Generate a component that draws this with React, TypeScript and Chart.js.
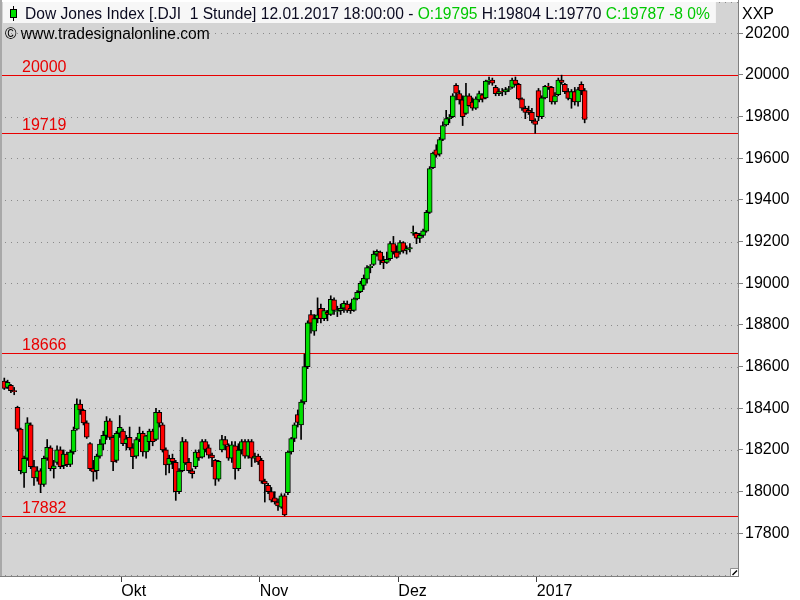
import React, { useEffect, useRef } from 'react';
import { Chart, registerables } from 'chart.js';

Chart.register(...registerables);

// ---------- data ----------
const tradingDays = [
  '2016-09-07', '2016-09-08', '2016-09-09', '2016-09-12', '2016-09-13', '2016-09-14', '2016-09-15', '2016-09-16',
  '2016-09-19', '2016-09-20', '2016-09-21', '2016-09-22', '2016-09-23', '2016-09-26', '2016-09-27', '2016-09-28',
  '2016-09-29', '2016-09-30',
  '2016-10-03', '2016-10-04', '2016-10-05', '2016-10-06', '2016-10-07', '2016-10-10', '2016-10-11', '2016-10-12',
  '2016-10-13', '2016-10-14', '2016-10-17', '2016-10-18', '2016-10-19', '2016-10-20', '2016-10-21', '2016-10-24',
  '2016-10-25', '2016-10-26', '2016-10-27', '2016-10-28', '2016-10-31',
  '2016-11-01', '2016-11-02', '2016-11-03', '2016-11-04', '2016-11-07', '2016-11-08', '2016-11-09', '2016-11-10',
  '2016-11-11', '2016-11-14', '2016-11-15', '2016-11-16', '2016-11-17', '2016-11-18', '2016-11-21', '2016-11-22',
  '2016-11-23', '2016-11-25', '2016-11-28', '2016-11-29', '2016-11-30',
  '2016-12-01', '2016-12-02', '2016-12-05', '2016-12-06', '2016-12-07', '2016-12-08', '2016-12-09', '2016-12-12',
  '2016-12-13', '2016-12-14', '2016-12-15', '2016-12-16', '2016-12-19', '2016-12-20', '2016-12-21', '2016-12-22',
  '2016-12-23', '2016-12-27', '2016-12-28', '2016-12-29', '2016-12-30',
  '2017-01-03', '2017-01-04', '2017-01-05', '2017-01-06', '2017-01-09', '2017-01-10', '2017-01-11', '2017-01-12',
];

// two sessions per trading day (morning / afternoon), last day only morning
const sessionOpen = [
  18530, 18500, 18510, 18485, 18405, 18300, 18090, 18160, 18320, 18120, 18066, 18100, 18035, 18160, 18210, 18110,
  18140, 18200, 18125, 18180, 18130, 18190, 18300, 18420, 18390, 18330, 18230, 18110, 18100, 18170, 18228, 18270,
  18340, 18260, 18150, 18280,
  18290, 18230, 18260, 18210, 18170, 18250, 18280, 18190, 18240, 18290, 18250, 18380, 18320, 18200, 18130, 18160,
  18140, 18000, 18100, 18240, 18140, 18100, 18120, 18190, 18165, 18240, 18210, 18175, 18150, 18060, 18200, 18250,
  18220, 18160, 18220, 18110, 18200, 18240, 18170, 18240, 18160, 18170,
  18150, 18050, 18030, 18000, 17970, 17950, 17925, 17980, 17995, 18190, 18255, 18370, 18320, 18430, 18600, 18850,
  18770, 18830, 18880, 18830, 18860, 18850, 18920, 18865, 18868, 18880, 18900, 18880, 18870, 18925, 18960, 18990,
  19020, 19075, 19090, 19140, 19150, 19110, 19100, 19118, 19190, 19150,
  19150, 19195, 19160, 19165, 19240, 19240, 19215, 19230, 19250, 19340, 19555, 19640, 19620, 19690, 19760, 19790,
  19800, 19950, 19910, 19880, 19815, 19900, 19870, 19840, 19880, 19905, 19890, 19970, 19975, 19940, 19910, 19920,
  19918, 19930, 19940, 19975, 19955, 19885, 19840, 19830, 19820, 19780,
  19925, 19800, 19890, 19945, 19940, 19870, 19905, 19975, 19955, 19920, 19885, 19920, 19870, 19955, 19925,
];
const sessionHigh = [
  18545, 18535, 18515, 18500, 18410, 18305, 18170, 18355, 18330, 18150, 18120, 18110, 18170, 18250, 18220, 18150,
  18220, 18215, 18200, 18190, 18200, 18310, 18445, 18440, 18395, 18340, 18235, 18150, 18180, 18250, 18290, 18360,
  18350, 18270, 18290, 18365,
  18300, 18270, 18310, 18230, 18260, 18310, 18290, 18270, 18300, 18300, 18400, 18390, 18330, 18210, 18175, 18180,
  18150, 18110, 18260, 18250, 18160, 18110, 18200, 18200, 18250, 18250, 18225, 18185, 18155, 18150, 18270, 18265,
  18230, 18240, 18240, 18230, 18250, 18250, 18250, 18250, 18185, 18180,
  18160, 18060, 18040, 18020, 18000, 17965, 17990, 17990, 18195, 18260, 18330, 18392, 18440, 18660, 18820, 18870,
  18850, 18930, 18900, 18880, 18870, 18940, 18930, 18890, 18900, 18915, 18915, 18905, 18930, 18965, 19010, 19040,
  19085, 19090, 19155, 19160, 19155, 19130, 19150, 19200, 19225, 19180,
  19205, 19200, 19180, 19190, 19275, 19245, 19240, 19260, 19350, 19560, 19630, 19665, 19700, 19775, 19830, 19810,
  19910, 19958, 19925, 19900, 19960, 19910, 19890, 19895, 19922, 19910, 19975, 19990, 19985, 19950, 19935, 19935,
  19940, 19945, 19985, 19990, 19960, 19890, 19850, 19850, 19840, 19790,
  19935, 19900, 19950, 19960, 19945, 19915, 19985, 19999, 19960, 19935, 19930, 19940, 19940, 19967, 19935,
];
const sessionLow = [
  18490, 18495, 18475, 18465, 18290, 18085, 18020, 18150, 18110, 18030, 18050, 17995, 18025, 18150, 18100, 18065,
  18130, 18110, 18110, 18120, 18120, 18180, 18295, 18370, 18320, 18255, 18100, 18050, 18060, 18160, 18200, 18250,
  18250, 18100, 18140, 18260,
  18220, 18200, 18200, 18110, 18160, 18240, 18170, 18160, 18200, 18220, 18245, 18310, 18190, 18080, 18090, 18110,
  17958, 17990, 18095, 18130, 18090, 18065, 18110, 18150, 18160, 18190, 18160, 18120, 18030, 18050, 18190, 18200,
  18150, 18140, 18060, 18100, 18180, 18160, 18160, 18120, 18140, 18130,
  18040, 17950, 17990, 17950, 17940, 17910, 17920, 17883, 17985, 18180, 18240, 18310, 18250, 18420, 18590, 18760,
  18750, 18810, 18810, 18820, 18820, 18845, 18850, 18840, 18850, 18860, 18860, 18855, 18865, 18920, 18955, 18970,
  19000, 19050, 19085, 19130, 19090, 19070, 19095, 19110, 19140, 19120,
  19140, 19145, 19140, 19150, 19230, 19190, 19195, 19220, 19245, 19335, 19550, 19605, 19610, 19685, 19755, 19770,
  19795, 19880, 19860, 19757, 19810, 19850, 19830, 19835, 19870, 19870, 19885, 19955, 19950, 19900, 19900, 19900,
  19905, 19920, 19935, 19950, 19880, 19830, 19790, 19810, 19770, 19720,
  19780, 19790, 19885, 19930, 19860, 19860, 19900, 19955, 19910, 19880, 19840, 19855, 19850, 19905, 19770,
];
const sessionClose = [
  18495, 18525, 18485, 18480, 18300, 18100, 18160, 18330, 18120, 18066, 18100, 18034, 18160, 18212, 18110, 18124,
  18200, 18120, 18180, 18129, 18190, 18295, 18420, 18392, 18330, 18261, 18110, 18094, 18170, 18228, 18270, 18339,
  18260, 18143, 18280, 18308,
  18230, 18253, 18210, 18168, 18250, 18281, 18190, 18268, 18290, 18240, 18380, 18329, 18200, 18128, 18160, 18144,
  18000, 18099, 18240, 18138, 18100, 18086, 18190, 18162, 18240, 18203, 18175, 18162, 18060, 18145, 18250, 18223,
  18160, 18225, 18110, 18199, 18240, 18170, 18240, 18161, 18170, 18142,
  18050, 18037, 18000, 17959, 17950, 17931, 17980, 17888, 18190, 18255, 18320, 18332, 18430, 18600, 18810, 18808,
  18830, 18848, 18830, 18869, 18850, 18923, 18870, 18868, 18880, 18904, 18870, 18868, 18925, 18956, 19000, 19024,
  19075, 19083, 19140, 19153, 19110, 19098, 19115, 19190, 19150, 19124,
  19195, 19155, 19165, 19171, 19245, 19217, 19230, 19252, 19340, 19550, 19625, 19615, 19690, 19757, 19790, 19797,
  19900, 19912, 19880, 19800, 19900, 19853, 19840, 19885, 19910, 19884, 19970, 19975, 19960, 19910, 19920, 19919,
  19930, 19935, 19975, 19955, 19885, 19840, 19820, 19820, 19780, 19763,
  19800, 19890, 19945, 19943, 19870, 19900, 19975, 19964, 19920, 19887, 19920, 19870, 19930, 19925, 19787,
];

const levelValues = [20000, 19719, 18666, 17882];
const gridValues = [17600, 17800, 18000, 18200, 18400, 18600, 18800, 19000, 19200, 19400, 19600, 19800, 20000, 20200];
const yTickValues = [17800, 18000, 18200, 18400, 18600, 18800, 19000, 19200, 19400, 19600, 19800, 20000, 20200];
const monthLabels = ['Okt', 'Nov', 'Dez', '2017'];
const monthFirstDays = ['2016-10-03', '2016-11-01', '2016-12-01', '2017-01-03'];

const headerTitle = 'Dow Jones Index [.DJI  1 Stunde] 12.01.2017 18:00:00 - ';
const headerOpen = 'O:19795';
const headerHighLow = ' H:19804 L:19770 ';
const headerClose = 'C:19787 -8 0%';
const copyright = '\u00A9 www.tradesignalonline.com';
const unitLabel = 'XXP';

// ---------- derived ----------
const sessionX = sessionOpen.map((_, i) => Math.floor(i / 2) + (i % 2 === 0 ? 0.25 : 0.75));
const monthTickDays = monthFirstDays.map((d) => tradingDays.indexOf(d));

const FAMILY = '"Liberation Sans", Arial, sans-serif';
const FONT = '16px ' + FAMILY;
const HEADER_FONT = '15.6px ' + FAMILY;
const GREEN = '#00e000';
const RED = '#ff0000';
const LEVEL_RED = '#e80000';

const overlayPlugin = {
  id: 'overlay',
  beforeDraw(chart: any) {
    const { ctx, chartArea: a } = chart;
    const ys = chart.scales.y;
    ctx.save();
    ctx.fillStyle = '#ffffff';
    ctx.fillRect(0, 0, chart.width, chart.height);
    ctx.fillStyle = '#d4d4d4';
    ctx.fillRect(a.left, a.top, a.right - a.left, a.bottom - a.top);

    // dotted grid
    ctx.strokeStyle = '#8a8a8a';
    ctx.lineWidth = 1;
    ctx.setLineDash([1, 5]);
    for (const v of gridValues) {
      const py = Math.round(ys.getPixelForValue(v)) + 0.5;
      ctx.beginPath();
      ctx.moveTo(a.left + 3, py);
      ctx.lineTo(a.right, py);
      ctx.stroke();
    }
    ctx.beginPath();
    ctx.moveTo(a.left + 3, a.top + 0.5);
    ctx.lineTo(a.right, a.top + 0.5);
    ctx.stroke();
    ctx.setLineDash([]);

    // level lines
    ctx.font = FONT;
    ctx.textAlign = 'left';
    ctx.textBaseline = 'alphabetic';
    for (const v of levelValues) {
      const py = Math.round(ys.getPixelForValue(v)) + 0.5;
      ctx.strokeStyle = LEVEL_RED;
      ctx.beginPath();
      ctx.moveTo(a.left, py);
      ctx.lineTo(a.right, py);
      ctx.stroke();
      ctx.fillStyle = LEVEL_RED;
      ctx.fillText(String(v), 22, py - 3.5);
    }
    ctx.restore();
  },
  afterDraw(chart: any) {
    const { ctx, chartArea: a } = chart;
    ctx.save();
    // frame
    ctx.fillStyle = '#a8a8a8';
    ctx.fillRect(0, 0, 2, a.bottom + 1);
    ctx.strokeStyle = '#808080';
    ctx.lineWidth = 1;
    ctx.beginPath();
    ctx.moveTo(a.right + 0.5, 0);
    ctx.lineTo(a.right + 0.5, a.bottom + 1);
    ctx.moveTo(0, a.bottom + 0.5);
    ctx.lineTo(a.right + 1, a.bottom + 0.5);
    ctx.stroke();

    // corner handle
    ctx.fillStyle = '#ffffff';
    ctx.fillRect(a.right - 7, a.bottom - 7, 7, 7);
    ctx.strokeStyle = '#909090';
    ctx.beginPath();
    ctx.moveTo(a.right - 7.5, a.bottom);
    ctx.lineTo(a.right - 7.5, a.bottom - 7.5);
    ctx.lineTo(a.right, a.bottom - 7.5);
    ctx.stroke();
    ctx.strokeStyle = '#000000';
    ctx.lineWidth = 1.5;
    ctx.beginPath();
    ctx.moveTo(a.right - 5.5, a.bottom - 1);
    ctx.lineTo(a.right - 1, a.bottom - 5.5);
    ctx.stroke();
    ctx.lineWidth = 1;

    // header
    ctx.font = HEADER_FONT;
    ctx.textAlign = 'left';
    ctx.textBaseline = 'alphabetic';
    const x0 = 25;
    const w1 = ctx.measureText(headerTitle).width;
    const w2 = ctx.measureText(headerOpen).width;
    const w3 = ctx.measureText(headerHighLow).width;
    const w4 = ctx.measureText(headerClose).width;
    const total = w1 + w2 + w3 + w4;
    ctx.fillStyle = '#f7f7f7';
    ctx.fillRect(3, 2, x0 + total + 6 - 3, 21);
    // candle icon
    ctx.strokeStyle = '#000000';
    ctx.beginPath();
    ctx.moveTo(13.5, 6);
    ctx.lineTo(13.5, 21);
    ctx.stroke();
    ctx.fillStyle = '#000000';
    ctx.fillRect(10, 9, 7, 9);
    ctx.fillStyle = GREEN;
    ctx.fillRect(11, 10, 5, 7);

    let x = x0;
    const by = 19;
    ctx.fillStyle = '#0a0a20';
    ctx.fillText(headerTitle, x, by);
    x += w1;
    ctx.fillStyle = '#00c800';
    ctx.fillText(headerOpen, x, by);
    x += w2;
    ctx.fillStyle = '#0a0a20';
    ctx.fillText(headerHighLow, x, by);
    x += w3;
    ctx.fillStyle = '#00c800';
    ctx.fillText(headerClose, x, by);

    ctx.fillStyle = '#000000';
    ctx.fillText(copyright, 5, 39);

    // unit label
    ctx.font = FONT;
    ctx.fillText(unitLabel, 742, 19);
    ctx.restore();
  },
};

export default function App() {
  const ref = useRef<HTMLCanvasElement>(null);

  useEffect(() => {
    const canvas = ref.current;
    if (!canvas) return;

    const wickData = sessionX.map((x, i) => ({ x, y: [sessionLow[i], sessionHigh[i]] }));
    const bodyData = sessionX.map((x, i) => ({ x, y: [sessionOpen[i], sessionClose[i]] }));
    const bodyColors = sessionOpen.map((o, i) => (sessionClose[i] >= o ? GREEN : RED));

    const chart = new Chart(canvas, {
      type: 'bar',
      data: {
        datasets: [
          {
            label: 'body',
            data: bodyData as any,
            backgroundColor: bodyColors,
            borderColor: '#000000',
            borderWidth: 1,
            borderSkipped: false,
            barThickness: 5,
            grouped: false,
            order: 0,
          } as any,
          {
            label: 'wick',
            data: wickData as any,
            backgroundColor: '#000000',
            borderWidth: 0,
            barThickness: 1,
            grouped: false,
            order: 1,
          } as any,
        ],
      },
      options: {
        responsive: false,
        maintainAspectRatio: false,
        devicePixelRatio: 1,
        animation: false,
        events: [],
        layout: { padding: { left: 2, top: 2, right: 0, bottom: 0 } },
        plugins: {
          legend: { display: false },
          tooltip: { enabled: false },
        },
        scales: {
          x: {
            type: 'linear',
            position: 'bottom',
            min: -0.1,
            max: 111.5,
            offset: false,
            afterFit: (s: any) => {
              s.height = 24;
              s.paddingLeft = 0;
              s.paddingRight = 0;
            },
            afterBuildTicks: (s: any) => {
              s.ticks = monthTickDays.map((v) => ({ value: v }));
            },
            grid: {
              offset: false,
              drawOnChartArea: false,
              drawTicks: true,
              tickLength: 6,
              tickColor: '#404040',
            },
            border: { display: false },
            ticks: {
              autoSkip: false,
              maxRotation: 0,
              minRotation: 0,
              align: 'start',
              padding: 0,
              color: '#000000',
              font: { family: FAMILY, size: 16 },
              callback: (_v: any, i: number) => monthLabels[i],
            },
          },
          y: {
            type: 'linear',
            position: 'right',
            min: 17595,
            max: 20350,
            afterFit: (s: any) => {
              s.width = 62;
              s.paddingTop = 0;
              s.paddingBottom = 0;
            },
            afterBuildTicks: (s: any) => {
              s.ticks = yTickValues.map((v) => ({ value: v }));
            },
            grid: {
              drawOnChartArea: false,
              drawTicks: true,
              tickLength: 5,
              tickColor: '#808080',
            },
            border: { display: false },
            ticks: {
              padding: 2,
              color: '#000000',
              font: { family: FAMILY, size: 16 },
              callback: (v: any) => String(v),
            },
          },
        },
      } as any,
      plugins: [overlayPlugin],
    });

    return () => chart.destroy();
  }, []);

  return (
    <div style={{ position: 'absolute', left: 0, top: 0, width: 800, height: 600 }}>
      <canvas ref={ref} width={800} height={600} style={{ display: 'block', width: 800, height: 600 }} />
    </div>
  );
}
